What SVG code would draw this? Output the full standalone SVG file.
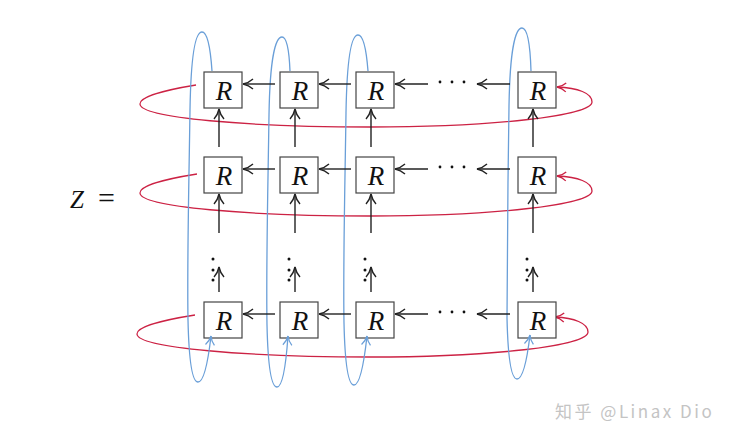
<svg xmlns="http://www.w3.org/2000/svg" width="736" height="442" viewBox="0 0 736 442">
<style>
.box{fill:#fff;stroke:#444;stroke-width:1.2}
.lbl{font-family:"Liberation Serif",serif;font-style:italic;font-size:27px;fill:#111;text-anchor:middle}
.arr{fill:none;stroke:#222;stroke-width:1.4;marker-end:url(#ak)}
.blue{fill:none;stroke:#6a9fd8;stroke-width:1.3;marker-end:url(#ab)}
.red{fill:none;stroke:#cc2244;stroke-width:1.3;marker-end:url(#ar)}
.dot{fill:#111}
.eq{font-family:"Liberation Serif",serif;fill:#111}
</style>
<defs>
<marker id="ak" markerUnits="userSpaceOnUse" viewBox="-12 -7 14 14" markerWidth="14" markerHeight="14" refX="0" refY="0" orient="auto"><path d="M-10,-5 C-6.5,-1.8 -2.5,-0.5 0,0 C-2.5,0.5 -6.5,1.8 -10,5" fill="none" stroke="#222" stroke-width="1.4"/></marker>
<marker id="ab" markerUnits="userSpaceOnUse" viewBox="-12 -7 14 14" markerWidth="14" markerHeight="14" refX="0" refY="0" orient="auto"><path d="M-9,-4.5 C-6,-1.6 -2.5,-0.5 0,0 C-2.5,0.5 -6,1.6 -9,4.5" fill="none" stroke="#6a9fd8" stroke-width="1.3"/></marker>
<marker id="ar" markerUnits="userSpaceOnUse" viewBox="-12 -7 14 14" markerWidth="14" markerHeight="14" refX="0" refY="0" orient="auto"><path d="M-9,-4.5 C-6,-1.6 -2.5,-0.5 0,0 C-2.5,0.5 -6,1.6 -9,4.5" fill="none" stroke="#cc2244" stroke-width="1.3"/></marker>
</defs>
<rect width="736" height="442" fill="#fff"/>
<text class="eq" x="70" y="208" font-size="25" font-style="italic">Z <tspan x="98" font-size="30" font-style="normal">=</tspan></text>
<g id="connectors">
<g id="red-loops">
<path class="red" d="M196,85 C165,90 140,97 140,104 C140,118 250,127 370,127 C490,127 592,116 592,102 C592,93 578,88 557,87"/>
<path class="red" d="M197,174 C165,179 140,186 140,193 C140,207 250,216 370,216 C490,216 592,205 592,191 C592,182 578,177 557,176"/>
<path class="red" d="M195,315 C163,320 137,327 137,334 C137,348 250,357 370,357 C490,357 588,346 588,332 C588,323 574,318 555,317"/>
</g>
</g>
<g id="nodes">
<g id="r11"><rect class="box" x="204" y="72" width="38" height="36"/><text class="lbl" x="224" y="100">R</text></g>
<g id="r12"><rect class="box" x="280" y="72" width="38" height="36"/><text class="lbl" x="300" y="100">R</text></g>
<g id="r13"><rect class="box" x="356" y="72" width="38" height="36"/><text class="lbl" x="376" y="100">R</text></g>
<g id="r14"><rect class="box" x="518" y="72" width="38" height="36"/><text class="lbl" x="538" y="100">R</text></g>
<g id="r21"><rect class="box" x="204" y="157" width="38" height="36"/><text class="lbl" x="224" y="185">R</text></g>
<g id="r22"><rect class="box" x="280" y="157" width="38" height="36"/><text class="lbl" x="300" y="185">R</text></g>
<g id="r23"><rect class="box" x="356" y="157" width="38" height="36"/><text class="lbl" x="376" y="185">R</text></g>
<g id="r24"><rect class="box" x="518" y="157" width="38" height="36"/><text class="lbl" x="538" y="185">R</text></g>
<g id="r31"><rect class="box" x="204" y="302" width="38" height="36"/><text class="lbl" x="224" y="330">R</text></g>
<g id="r32"><rect class="box" x="280" y="302" width="38" height="36"/><text class="lbl" x="300" y="330">R</text></g>
<g id="r33"><rect class="box" x="356" y="302" width="38" height="36"/><text class="lbl" x="376" y="330">R</text></g>
<g id="r34"><rect class="box" x="518" y="302" width="38" height="36"/><text class="lbl" x="538" y="330">R</text></g>
</g>
<g id="connectors-front">
<g id="blue-loops">
<path class="blue" d="M212,71 C210,42 206,32 202,32 C196,32 191,50 190,110 C189,180 187,260 188,320 C189,365 193,382 198,382 C204,382 208,362 211,336"/>
<path class="blue" d="M290,71 C289,47 286,37 282,37 C276,37 270,55 269,115 C268,185 266,265 267,325 C268,370 272,387 277,387 C283,387 286,364 288,336"/>
<path class="blue" d="M368,71 C366,45 362,35 358,35 C352,35 347,53 346,113 C345,183 343,263 344,323 C345,368 349,385 354,385 C360,385 364,363 367,336"/>
<path class="blue" d="M531,71 C530,38 526,28 522,28 C516,28 510,46 509,106 C508,176 507,256 507,318 C508,362 512,379 517,379 C523,379 527,360 530,335"/>
</g>
<g id="h-arrows">
<path class="arr" d="M275,84 L243,84"/><path class="arr" d="M351,84 L319,84"/><path class="arr" d="M428,84 L395,84"/><path class="arr" d="M510,84 L477,84"/>
<path class="arr" d="M275,169 L243,169"/><path class="arr" d="M351,169 L319,169"/><path class="arr" d="M428,169 L395,169"/><path class="arr" d="M510,169 L477,169"/>
<path class="arr" d="M275,314 L243,314"/><path class="arr" d="M351,314 L319,314"/><path class="arr" d="M428,314 L395,314"/><path class="arr" d="M510,314 L477,314"/>
</g>
<g id="v-arrows">
<path class="arr" d="M219,147 L219,109"/><path class="arr" d="M295,147 L295,109"/><path class="arr" d="M371,147 L371,109"/><path class="arr" d="M533,147 L533,109"/>
<path class="arr" d="M219,233 L219,194"/><path class="arr" d="M295,233 L295,194"/><path class="arr" d="M371,233 L371,194"/><path class="arr" d="M533,233 L533,194"/>
<path class="arr" d="M219,292 L219,267"/><path class="arr" d="M295,292 L295,267"/><path class="arr" d="M371,292 L371,267"/><path class="arr" d="M533,292 L533,267"/>
</g>
</g>
<g id="dots">
<circle class="dot" cx="440" cy="82" r="1.4"/><circle class="dot" cx="452" cy="82" r="1.4"/><circle class="dot" cx="464" cy="82" r="1.4"/>
<circle class="dot" cx="440" cy="167" r="1.4"/><circle class="dot" cx="452" cy="167" r="1.4"/><circle class="dot" cx="464" cy="167" r="1.4"/>
<circle class="dot" cx="440" cy="312" r="1.4"/><circle class="dot" cx="452" cy="312" r="1.4"/><circle class="dot" cx="464" cy="312" r="1.4"/>
<circle class="dot" cx="213" cy="259" r="1.5"/><circle class="dot" cx="213" cy="270" r="1.5"/><circle class="dot" cx="213" cy="280" r="1.5"/>
<circle class="dot" cx="289" cy="259" r="1.5"/><circle class="dot" cx="289" cy="270" r="1.5"/><circle class="dot" cx="289" cy="280" r="1.5"/>
<circle class="dot" cx="365" cy="259" r="1.5"/><circle class="dot" cx="365" cy="270" r="1.5"/><circle class="dot" cx="365" cy="280" r="1.5"/>
<circle class="dot" cx="527" cy="259" r="1.5"/><circle class="dot" cx="527" cy="270" r="1.5"/><circle class="dot" cx="527" cy="280" r="1.5"/>
</g>
<text x="555" y="418" font-family="'Noto Sans CJK SC','Noto Sans',sans-serif" font-size="17" letter-spacing="2.5" fill="#c4c4c4">知乎 @Linax Dio</text>
</svg>
